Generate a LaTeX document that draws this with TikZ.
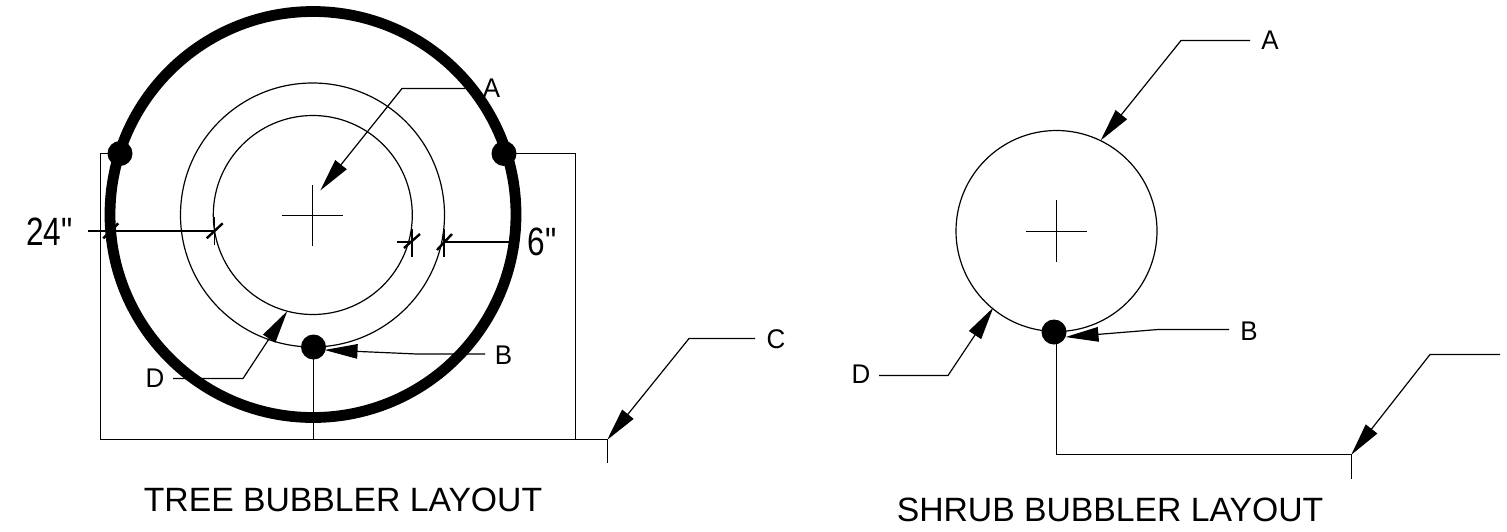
\documentclass[tikz,border=0pt]{standalone}
\usepackage{fontspec}
\setmainfont{Liberation Sans}
\newfontfamily\dimfamily{Liberation Sans}
\usetikzlibrary{arrows.meta}
\tikzset{
 x=1pt,y=-1pt,
 thin line/.style={line width=1.2pt,line cap=butt},
 dim line/.style={line width=1.6pt},
 tick line/.style={line width=2.4pt},
 leader/.style={line width=1.2pt,line join=miter,-{Triangle[length=33pt,width=14.5pt]},shorten >=-0.5pt},
 ring/.style={circle,draw,inner sep=0pt,outer sep=0pt,line width=1.2pt},
 bigring/.style={ring,line width=10.8pt},
 emitter/.style={circle,fill=black,inner sep=0pt,outer sep=0pt,minimum size=25pt},
 letter/.style={font=\fontsize{27}{27}\selectfont,inner sep=0pt,xscale=.96},
 dimtext/.style={font=\dimfamily\fontsize{39.5}{39.5}\selectfont,inner sep=0pt,xscale=.8},
 titletext/.style={font=\fontsize{33.7}{33.7}\selectfont,inner sep=0pt},
}
\begin{document}
\begin{tikzpicture}
\useasboundingbox (0,0) rectangle (1507,531);
% ---- tree bubbler ----
\node[bigring,minimum size=406pt] (ring) at (313,214.5) {};
\node[ring,minimum size=264pt] (mid) at (312.5,215) {};
\node[ring,minimum size=199pt] (inner) at (312.8,215) {};
\coordinate (cw) at (282,215.5); \coordinate (ce) at (343,215.5);
\coordinate (cn) at (312.5,185); \coordinate (cs) at (312.5,246);
\draw[thin line] (cw)--(ce) (cn)--(cs);
\node[emitter] (dl) at (120,153.5) {};
\node[emitter] (dr) at (504,153.5) {};
\node[emitter] (db) at (313.5,347) {};
\coordinate (bl) at (100.5,439.5); \coordinate (br) at (575.5,439.5);
\coordinate (bj) at (607.5,439.5); \coordinate (bt) at (607.5,463);
\coordinate (bm) at (313.5,439.5);
\draw[thin line] (dl.center) -| (bl) -- (bj) -- (bt);
\draw[thin line] (dr.center) -| (br);
\draw[thin line] (db.center) -- (bm);
% dimensions
\coordinate (d1a) at (88,231); \coordinate (d1b) at (214.5,231);
\draw[dim line] (d1a)--(d1b);
\coordinate (t1a) at (103.3,238.3); \coordinate (t1b) at (118.3,223.3);
\coordinate (t2a) at (206.7,238.3); \coordinate (t2b) at (222.7,223.3);
\draw[tick line] (t1a)--(t1b) (t2a)--(t2b);
\coordinate (e1a) at (214.5,217); \coordinate (e1b) at (214.5,245);
\draw[dim line] (e1a)--(e1b);
\coordinate (d2a) at (397,242); \coordinate (d2b) at (412,242);
\coordinate (d3a) at (444,242); \coordinate (d3b) at (510,242);
\draw[dim line] (d2a)--(d2b) (d3a)--(d3b);
\coordinate (e2a) at (412,229); \coordinate (e2b) at (412,257);
\coordinate (e3a) at (444,229); \coordinate (e3b) at (444,257);
\draw[dim line] (e2a)--(e2b) (e3a)--(e3b);
\coordinate (t3a) at (404,248); \coordinate (t3b) at (420,234);
\coordinate (t4a) at (437,250); \coordinate (t4b) at (452,234);
\draw[tick line] (t3a)--(t3b) (t4a)--(t4b);
\node[dimtext] (lab24) at (49.5,231.5) {24"};
\node[dimtext] (lab6) at (542,242) {6"};
% leaders
\node[letter] (la) at (491.5,88) {A};
\coordinate (la1) at (465,88.5); \coordinate (la2) at (402,88.5); \coordinate (la3) at (320.7,190);
\draw[leader] (la1)--(la2)--(la3);
\node[letter] (lb) at (503.5,355) {B};
\coordinate (lb1) at (485,354); \coordinate (lb2) at (417,354); \coordinate (lb3) at (325,350);
\draw[leader] (lb1)--(lb2)--(lb3);
\node[letter] (lc) at (776,339) {C};
\coordinate (lc1) at (755,338.5); \coordinate (lc2) at (689,338.5);
\draw[leader] (lc1)--(lc2)--(bj);
\node[letter] (ld) at (155,378) {D};
\coordinate (ld1) at (173,378.5); \coordinate (ld2) at (243,378.5); \coordinate (ld3) at (287,311.5);
\draw[leader] (ld1)--(ld2)--(ld3);
\node[titletext] (t1) at (343,500) {TREE BUBBLER LAYOUT};
% ---- shrub bubbler ----
\node[ring,minimum size=201pt] (sring) at (1056.5,231) {};
\coordinate (scw) at (1026,231.5); \coordinate (sce) at (1087,231.5);
\coordinate (scn) at (1056.5,200); \coordinate (scs) at (1056.5,262);
\draw[thin line] (scw)--(sce) (scn)--(scs);
\node[emitter] (sd) at (1054,332) {};
\coordinate (sv) at (1056.5,332); \coordinate (sb) at (1056.5,454.5);
\coordinate (sj) at (1351.5,454.5); \coordinate (st) at (1351.5,479);
\draw[thin line] (sv)--(sb)--(sj)--(st);
\coordinate (sc1) at (1500,354.5); \coordinate (sc2) at (1430,354.5);
\draw[leader] (sc1)--(sc2)--(sj);
\node[letter] (sa) at (1270,40) {A};
\coordinate (sa1) at (1250,40.5); \coordinate (sa2) at (1181,40.5); \coordinate (sa3) at (1101,140);
\draw[leader] (sa1)--(sa2)--(sa3);
\node[letter] (slb) at (1249,331) {B};
\coordinate (sb1) at (1229,329.5); \coordinate (sb2) at (1158,329.5); \coordinate (sb3) at (1066,337);
\draw[leader] (sb1)--(sb2)--(sb3);
\node[letter] (sld) at (861,374) {D};
\coordinate (sd1) at (879,375.5); \coordinate (sd2) at (948,375.5); \coordinate (sd3) at (993,308);
\draw[leader] (sd1)--(sd2)--(sd3);
\node[titletext] (t2) at (1110,509.5) {SHRUB BUBBLER LAYOUT};
\end{tikzpicture}
\end{document}
